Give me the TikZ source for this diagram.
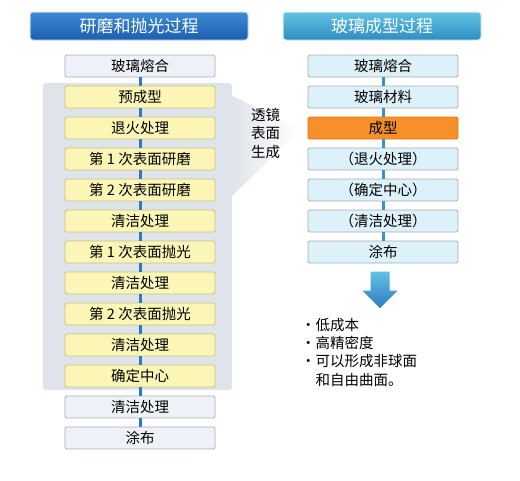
\documentclass[tikz,border=0pt]{standalone}
\usepackage{fontspec}
\setmainfont{Noto Sans CJK SC}
\definecolor{lhtop}{HTML}{3F8AD4}
\definecolor{lhbot}{HTML}{1C5EAE}
\definecolor{rhtop}{HTML}{62C3E3}
\definecolor{rhbot}{HTML}{2E8DC0}
\definecolor{conn}{HTML}{2F78C4}
\definecolor{rconn}{HTML}{3A93C8}
\definecolor{yfill}{HTML}{FBF5B6}
\definecolor{ydraw}{HTML}{C9C082}
\definecolor{gfill}{HTML}{EEF2F8}
\definecolor{gdraw}{HTML}{A9AEB5}
\definecolor{cfill}{HTML}{DDF1FA}
\definecolor{ofill}{HTML}{F7902A}
\definecolor{odraw}{HTML}{E07412}
\definecolor{region}{HTML}{DFE4EA}
\tikzset{
  x=1pt, y=-1pt,
  header/.style={draw=white!70!lhtop, line width=1pt, rounded corners=3pt, minimum width=218pt, minimum height=28pt, inner sep=0pt, text=white, font=\fontsize{17}{17}\selectfont},
  boxbase/.style={draw, line width=0.9pt, rounded corners=1.5pt, minimum width=150pt, minimum height=22pt, inner sep=0pt, font=\fontsize{14.5}{14.5}\selectfont},
  ybox/.style={boxbase, fill=yfill, draw=ydraw},
  gbox/.style={boxbase, fill=gfill, draw=gdraw},
  cbox/.style={boxbase, fill=cfill, draw=gdraw},
  obox/.style={boxbase, fill=ofill, draw=odraw},
  lconn/.style={conn, line width=3pt},
  rconnst/.style={rconn, line width=3pt},
  plain/.style={inner sep=0pt, font=\fontsize{14.5}{16}\selectfont, anchor=west}
}
\begin{document}
\begin{tikzpicture}
\useasboundingbox (0,0) rectangle (520,480);
% headers
\node[header, top color=lhtop, bottom color=lhbot] (lh) at (139,26) {研磨和抛光过程};
\node[header, draw=white!70!rhtop, top color=rhtop, bottom color=rhbot, minimum width=198pt] (rh) at (382,26) {玻璃成型过程};
% gray region with arrow
\fill[region, rounded corners=3pt] (43,83) rectangle (232,390);
\shade[left color=region, right color=white] (231,95) -- (300,130) -- (231,197) -- cycle;
% left boxes
\node[gbox] (l1) at (140,66) {玻璃熔合};
\node[ybox] (l2) at (140,97) {预成型};
\node[ybox] (l3) at (140,128) {退火处理};
\node[ybox] (l4) at (140,159) {第 1 次表面研磨};
\node[ybox] (l5) at (140,190) {第 2 次表面研磨};
\node[ybox] (l6) at (140,221) {清洁处理};
\node[ybox] (l7) at (140,252) {第 1 次表面抛光};
\node[ybox] (l8) at (140,283) {清洁处理};
\node[ybox] (l9) at (140,314) {第 2 次表面抛光};
\node[ybox] (l10) at (140,345) {清洁处理};
\node[ybox] (l11) at (140,376) {确定中心};
\node[gbox] (l12) at (140,407) {清洁处理};
\node[gbox] (l13) at (140,438) {涂布};
\foreach \a/\b in {l1/l2,l2/l3,l3/l4,l4/l5,l5/l6,l6/l7,l7/l8,l8/l9,l9/l10,l10/l11,l11/l12,l12/l13}
  \draw[lconn] (\a.south) -- (\b.north);
% middle label
\node[inner sep=0pt, align=left, font=\fontsize{14.5}{18.5}\selectfont, anchor=north west] (lbl) at (251,108) {透镜\\表面\\生成};
% right boxes
\node[cbox] (r1) at (383,66) {玻璃熔合};
\node[cbox] (r2) at (383,97) {玻璃材料};
\node[obox] (r3) at (383,128) {成型};
\node[cbox] (r4) at (383,159) {（退火处理）};
\node[cbox] (r5) at (383,190) {（确定中心）};
\node[cbox] (r6) at (383,221) {（清洁处理）};
\node[cbox] (r7) at (383,252) {涂布};
\foreach \a/\b in {r1/r2,r2/r3,r3/r4,r4/r5,r5/r6,r6/r7}
  \draw[rconnst] (\a.south) -- (\b.north);
% blue down arrow
\shade[draw=white, line width=1pt, shading angle=225, top color=rhtop, bottom color=conn]
  (370,271) -- (390,271) -- (390,290) -- (399,290) -- (380,309) -- (361,290) -- (370,290) -- cycle;
% bullets
\node[plain] (b1) at (301,325) {・低成本};
\node[plain] (b2) at (301,343) {・高精密度};
\node[plain] (b3) at (301,361) {・可以形成非球面};
\node[plain] (b4) at (315.5,380) {和自由曲面。};
\end{tikzpicture}
\end{document}
